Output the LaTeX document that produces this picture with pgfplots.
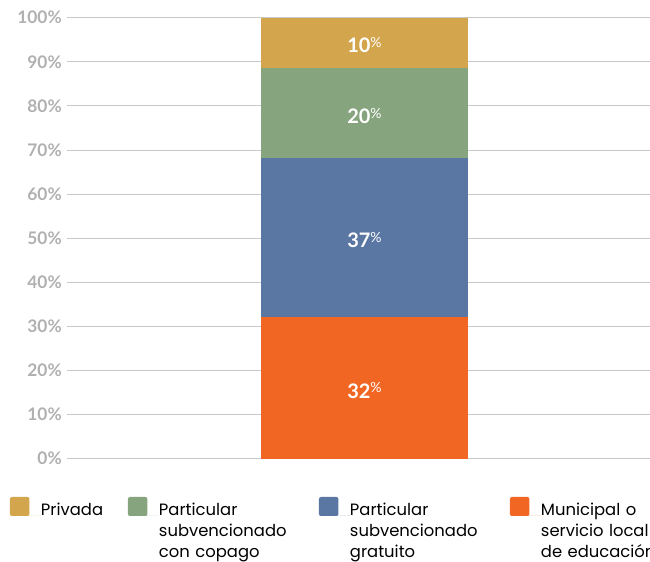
\documentclass[border=0pt]{standalone}
\usepackage{pgfplots}
\pgfplotsset{compat=1.18}
\usepackage{fontspec}
\setmainfont{Lato}
\newfontfamily\legfont{Poppins}

\definecolor{cPriv}{HTML}{D3A54C}
\definecolor{cCop}{HTML}{86A47E}
\definecolor{cGrat}{HTML}{5A77A3}
\definecolor{cMuni}{HTML}{F26624}
\definecolor{cTick}{HTML}{B0B0B0}
\definecolor{cGrid}{HTML}{C8C8C8}

\newcommand{\pctlab}[1]{\textbf{#1}\raisebox{3.8pt}{\fontsize{10.5}{10.5}\selectfont\%}}
\tikzset{barlab/.style={text=white, font=\fontsize{15}{15}\selectfont, anchor=base, yshift=-7.6pt, inner sep=0pt}}

\begin{document}
\begin{tikzpicture}
\begin{axis}[
    at={(50.25pt,-344.025pt)}, anchor=south west,
    scale only axis, width=437.25pt, height=330.75pt,
    xmin=67, xmax=650, ymin=0, ymax=100,
    axis line style={draw=none},
    xtick=\empty,
    ytick={0,10,...,100},
    yticklabel={\pgfmathprintnumber{\tick}\%},
    yticklabel style={font=\fontsize{13}{13}\selectfont\bfseries, text=cTick,
        inner sep=0pt, xshift=-3.75pt},
    /pgf/number format/assume math mode=true,
    major tick length=0pt,
    ymajorgrids,
    grid style={cGrid, line width=0.75pt},
    ybar stacked, bar width=155.25pt,
    legend image code/.code={
        \fill[#1, rounded corners=1.5pt] (0pt,0pt) rectangle (14.6pt,14.25pt);
        \path (0pt,0pt) -- (23.25pt,0pt);
    },
    reverse legend,
    legend columns=4,
    legend style={at={(-0.0978,-0.0868)}, anchor=north west,
        draw=none, fill=none, inner sep=0pt, outer sep=0pt,
        column sep=0pt, row sep=0pt,
        font=\legfont\fontsize{12.3}{15.75}\selectfont,
        cells={anchor=base west},
        nodes={inner sep=0pt, outer sep=0pt, align=left, anchor=base west},
        /tikz/column 2/.style={nodes={text width=65.25pt}},
        /tikz/column 4/.style={nodes={text width=120pt}},
        /tikz/column 6/.style={nodes={text width=120pt}},
        /tikz/column 8/.style={nodes={text width=100pt}}},
]
\addplot[fill=cMuni, draw=none] coordinates {(364.5,32.1)};
\addlegendentry{Municipal o\\servicio local\\de educación}
\addplot[fill=cGrat, draw=none] coordinates {(364.5,36.1)};
\addlegendentry{Particular\\subvencionado\\gratuito}
\addplot[fill=cCop, draw=none] coordinates {(364.5,20.4)};
\addlegendentry{Particular\\subvencionado\\con copago}
\addplot[fill=cPriv, draw=none] coordinates {(364.5,11.4)};
\addlegendentry{Privada}

\coordinate (lMuni) at (axis cs:364.5,16.05);
\coordinate (lGrat) at (axis cs:364.5,50.15);
\coordinate (lCop) at (axis cs:364.5,78.4);
\coordinate (lPriv) at (axis cs:364.5,94.3);
\end{axis}
\node[barlab] at (lMuni) {\pctlab{32}};
\node[barlab] at (lGrat) {\pctlab{37}};
\node[barlab] at (lCop) {\pctlab{20}};
\node[barlab] at (lPriv) {\pctlab{10}};
\pgfresetboundingbox
\useasboundingbox (0,0) rectangle (487.5pt,-420.75pt);
\end{tikzpicture}
\end{document}
